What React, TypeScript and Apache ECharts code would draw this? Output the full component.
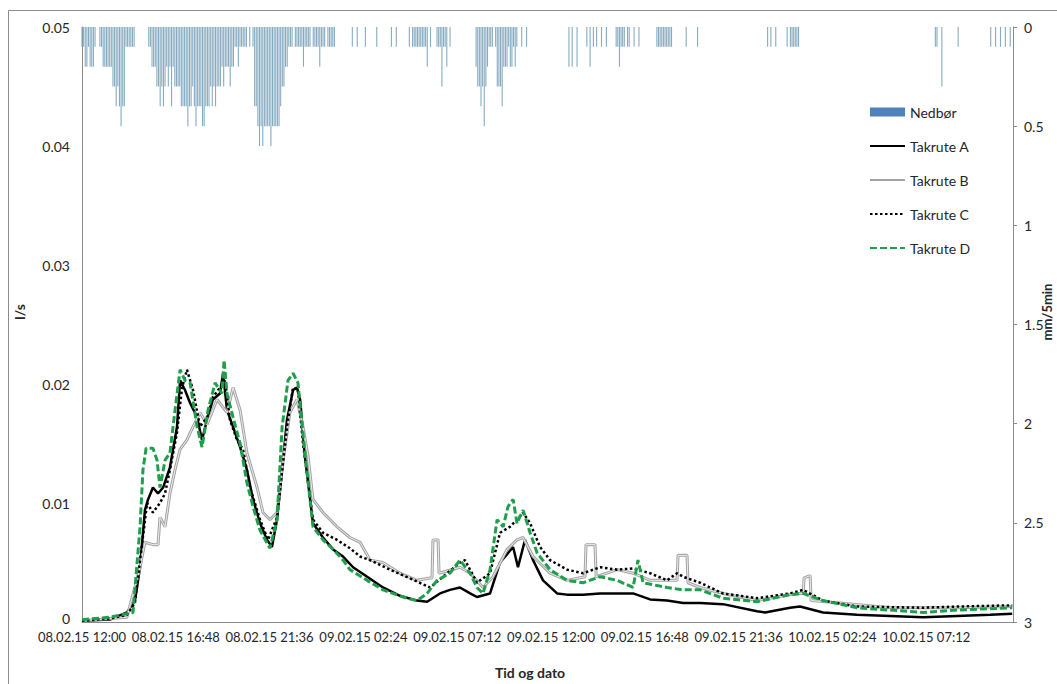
import React, { useEffect, useRef } from "react";
import * as echarts from "echarts";

// ---- axis ticks ----
const xTickLabels = [
  "08.02.15 12:00", "08.02.15 16:48", "08.02.15 21:36", "09.02.15 02:24", "09.02.15 07:12",
  "09.02.15 12:00", "09.02.15 16:48", "09.02.15 21:36", "10.02.15 02:24", "10.02.15 07:12",
];
const xTickStepHours = 4.8; // hours between labelled ticks
const xMaxHours = 47.64;    // end of record, hours after 08.02.15 12:00

// ---- precipitation, tenths of mm per 5-minute slot (one row = one hour) ----
const rainStepMinutes = 5;
const rainTenthsMm = [
  1,1,2,2,1,2,2,2,1,0,0,1,
  1,2,2,2,2,2,2,3,3,4,3,4,
  5,4,4,1,1,1,1,1,1,0,0,0,
  0,0,0,0,0,1,1,2,2,2,3,3,
  4,3,4,3,2,3,2,4,2,3,3,3,
  3,4,4,4,4,5,4,4,3,4,5,4,
  4,4,5,5,4,4,4,3,4,3,4,3,
  3,3,2,3,2,2,2,3,2,2,1,1,
  2,1,1,1,1,1,0,1,0,1,4,4,
  5,6,5,6,5,5,5,5,6,5,5,5,
  5,5,4,3,3,2,2,1,1,1,0,1,
  1,1,1,1,2,1,1,1,1,0,1,1,
  1,1,2,1,1,1,0,1,1,1,1,1,
  0,0,0,0,0,0,0,0,0,0,1,0,
  0,1,0,0,0,0,1,0,0,0,0,0,
  0,1,0,0,0,0,0,0,0,0,1,0,
  0,1,0,0,0,0,0,0,0,1,0,1,
  1,1,1,1,1,1,1,1,2,0,1,0,
  0,0,1,1,1,3,1,1,2,0,1,0,
  0,0,0,0,0,0,0,0,0,0,0,0,
  0,0,2,3,3,4,3,5,3,2,1,1,
  1,0,1,3,3,3,4,2,2,2,1,2,
  2,1,2,1,0,0,1,0,0,1,0,0,
  0,0,0,0,0,0,0,0,0,0,0,0,
  0,0,0,0,0,0,0,0,0,0,0,2,
  0,2,0,0,2,0,0,0,0,0,1,0,
  2,0,1,0,1,0,0,1,0,0,1,0,
  0,0,0,0,1,1,2,1,1,1,0,1,
  1,0,0,1,0,0,1,0,0,0,0,0,
  0,0,0,0,0,1,1,1,1,1,1,1,
  1,1,1,0,0,0,0,0,0,0,0,1,
  0,0,0,0,0,0,1,0,0,0,0,0,
  0,0,0,0,0,0,0,0,0,0,0,0,
  0,0,0,0,0,0,0,0,0,0,0,0,
  0,0,0,0,0,0,0,0,0,0,0,0,
  0,1,0,1,0,0,1,0,0,0,0,0,
  0,1,0,1,1,1,1,1,1,0,0,0,
  0,0,0,0,0,0,0,0,0,0,0,0,
  0,0,0,0,0,0,0,0,0,0,0,0,
  0,0,0,0,0,0,0,0,0,0,0,0,
  0,0,0,0,0,0,0,0,0,0,0,0,
  0,0,0,0,0,0,0,0,0,0,0,0,
  0,0,0,0,0,0,0,0,0,0,0,0,
  0,0,0,0,0,0,0,0,1,1,0,0,
  3,0,0,0,0,0,0,0,0,0,1,0,
  0,0,0,0,0,0,0,0,0,0,0,0,
  0,0,0,0,0,0,1,0,0,1,0,0,
  1,0,0,1,0,0,1,
];

// ---- runoff, [hours after 08.02.15 12:00, l/s] ----
const takruteA: [number, number][] = [
  [0, 0.0001], [1.43, 0.0002], [2.3, 0.0008], [2.71, 0.0018], [2.97, 0.0046], [3.22, 0.0094],
  [3.38, 0.0103], [3.63, 0.0113], [3.89, 0.0108], [4.15, 0.0113], [4.5, 0.013], [4.86, 0.0164],
  [5.02, 0.0203], [5.27, 0.0195], [5.53, 0.0184], [5.89, 0.0172], [6.14, 0.0153], [6.4, 0.017],
  [6.7, 0.0187], [7.06, 0.0192], [7.22, 0.0209], [7.42, 0.0178], [7.73, 0.0164], [8.09, 0.0147],
  [8.44, 0.0128], [8.75, 0.0103], [9.11, 0.0083], [9.47, 0.0069], [9.72, 0.0063], [9.98, 0.0086],
  [10.24, 0.0128], [10.49, 0.017], [10.8, 0.0195], [11.0, 0.0197], [11.16, 0.0187], [11.41, 0.0139],
  [11.82, 0.0083], [12.33, 0.0071], [12.85, 0.0061], [13.36, 0.0055], [13.87, 0.0046], [14.59, 0.0038],
  [15.4, 0.0029], [16.27, 0.0022], [17.14, 0.0018], [17.66, 0.0017], [18.32, 0.0024], [18.83, 0.0027],
  [19.34, 0.0029], [19.86, 0.0024], [20.21, 0.0021], [20.88, 0.0024], [21.39, 0.005], [22.06, 0.0063],
  [22.31, 0.0046], [22.67, 0.0069], [23.08, 0.0052], [23.59, 0.0035], [24.31, 0.0024], [24.82, 0.0023],
  [25.64, 0.0023], [26.51, 0.0024], [27.38, 0.0024], [28.2, 0.0024], [29.07, 0.0019], [29.94, 0.0018],
  [30.76, 0.0016], [31.63, 0.0016], [32.8, 0.0015], [34.54, 0.0009], [34.95, 0.0008], [36.23, 0.0012],
  [36.74, 0.0013], [37.92, 0.0008], [39.66, 0.0006], [41.35, 0.0005], [43.04, 0.0004], [44.78, 0.0005],
  [46.47, 0.0006], [47.6, 0.0007],
];

const takruteB: [number, number][] = [
  [0, 0.0001], [1.43, 0.0003], [2.3, 0.0004], [2.97, 0.0046], [3.22, 0.0067], [3.63, 0.0065],
  [3.89, 0.0065], [3.99, 0.0088], [4.25, 0.008], [4.5, 0.0108], [4.76, 0.0128], [5.02, 0.0145],
  [5.37, 0.0153], [5.68, 0.0164], [6.04, 0.0176], [6.4, 0.0166], [6.91, 0.0187], [7.42, 0.0176],
  [7.73, 0.0197], [8.09, 0.0178], [8.44, 0.0142], [8.96, 0.0113], [9.26, 0.0092], [9.62, 0.0086],
  [9.98, 0.0092], [10.29, 0.0136], [10.64, 0.0176], [11.0, 0.0187], [11.31, 0.0164], [11.57, 0.0139],
  [11.82, 0.0103], [12.33, 0.0092], [13.05, 0.008], [13.71, 0.0071], [14.23, 0.0067], [14.74, 0.0052],
  [15.4, 0.005], [16.27, 0.0041], [17.14, 0.0035], [17.81, 0.0037], [17.91, 0.0037], [17.96, 0.0069],
  [18.22, 0.0069], [18.27, 0.0041], [19.34, 0.0046], [19.86, 0.0041], [20.52, 0.0029], [21.03, 0.0038],
  [21.75, 0.0061], [22.26, 0.0069], [22.57, 0.0071], [23.08, 0.0055], [23.95, 0.0041], [24.82, 0.0035],
  [25.74, 0.0038], [25.79, 0.0065], [26.25, 0.0065], [26.31, 0.0038], [27.38, 0.0044], [28.2, 0.0041],
  [29.07, 0.0035], [30.45, 0.0035], [30.5, 0.0056], [30.96, 0.0056], [31.01, 0.0033], [31.63, 0.0029],
  [32.8, 0.0024], [34.54, 0.0018], [36.23, 0.0023], [36.74, 0.0024], [36.9, 0.0024], [36.95, 0.0037],
  [37.26, 0.0039], [37.31, 0.0018], [38.79, 0.0016], [41.35, 0.0012], [44.78, 0.0012], [47.6, 0.0013],
];

const takruteC: [number, number][] = [
  [0, 0.0001], [1.43, 0.0003], [2.3, 0.0006], [2.71, 0.0016], [2.97, 0.0052], [3.33, 0.01],
  [3.63, 0.0092], [3.99, 0.01], [4.25, 0.0108], [4.5, 0.0128], [4.86, 0.0159], [5.12, 0.0197],
  [5.37, 0.0212], [5.68, 0.0195], [6.04, 0.0164], [6.4, 0.0172], [6.7, 0.0189], [7.06, 0.0197],
  [7.32, 0.0203], [7.57, 0.017], [7.93, 0.0153], [8.24, 0.0145], [8.6, 0.0113], [9.11, 0.0086],
  [9.52, 0.0069], [9.98, 0.0088], [10.49, 0.0164], [10.8, 0.0197], [11.05, 0.0195], [11.31, 0.015],
  [11.82, 0.0086], [12.33, 0.0075], [13.05, 0.0069], [13.71, 0.0062], [14.23, 0.0055], [14.74, 0.0052],
  [15.76, 0.0044], [17.14, 0.0034], [17.81, 0.0029], [18.47, 0.0038], [19.34, 0.005], [19.6, 0.0052],
  [20.21, 0.0033], [20.88, 0.0041], [21.39, 0.0075], [21.9, 0.008], [22.26, 0.0086], [22.57, 0.0092],
  [22.93, 0.0083], [23.44, 0.0063], [23.95, 0.0052], [24.82, 0.0044], [25.64, 0.0041], [26.51, 0.0046],
  [27.38, 0.0044], [28.2, 0.0045], [29.07, 0.0041], [29.94, 0.0035], [30.45, 0.0041], [30.76, 0.0038],
  [31.63, 0.0033], [32.8, 0.0024], [34.54, 0.002], [36.23, 0.0024], [36.9, 0.0027], [37.92, 0.0018],
  [39.66, 0.0013], [43.04, 0.0012], [44.78, 0.0013], [47.6, 0.0014],
];

const takruteD: [number, number][] = [
  [0, 0.0002], [1.43, 0.0004], [2.3, 0.0007], [2.61, 0.0008], [2.97, 0.008], [3.12, 0.0128],
  [3.28, 0.0146], [3.63, 0.0146], [3.84, 0.0136], [3.99, 0.0113], [4.25, 0.0136], [4.5, 0.0142],
  [4.76, 0.0178], [5.02, 0.0212], [5.27, 0.0203], [5.53, 0.0201], [5.89, 0.0164], [6.14, 0.0147],
  [6.45, 0.0178], [6.81, 0.0201], [7.16, 0.0192], [7.27, 0.022], [7.42, 0.0192], [7.73, 0.0172],
  [8.09, 0.015], [8.44, 0.0117], [8.75, 0.0097], [9.11, 0.0077], [9.62, 0.0062], [9.98, 0.0086],
  [10.24, 0.0164], [10.54, 0.0203], [10.8, 0.0209], [11.05, 0.0201], [11.41, 0.0142], [11.82, 0.008],
  [12.33, 0.0069], [12.85, 0.0061], [13.36, 0.0052], [13.71, 0.0044], [14.59, 0.0035], [15.4, 0.0027],
  [16.43, 0.0021], [17.14, 0.0018], [17.66, 0.0024], [18.17, 0.0035], [18.83, 0.0041], [19.34, 0.0052],
  [19.86, 0.0041], [20.21, 0.0029], [20.52, 0.0024], [20.88, 0.0044], [21.24, 0.0086], [21.55, 0.008],
  [21.8, 0.0097], [22.06, 0.0103], [22.26, 0.0083], [22.57, 0.0094], [22.93, 0.0075], [23.29, 0.0058],
  [23.95, 0.0044], [24.82, 0.0035], [25.64, 0.0033], [26.51, 0.0038], [27.38, 0.0035], [28.2, 0.0029],
  [28.45, 0.0052], [28.71, 0.0033], [29.94, 0.0029], [30.76, 0.0027], [31.63, 0.0027], [32.8, 0.002],
  [34.54, 0.0017], [36.23, 0.0023], [36.9, 0.0024], [37.92, 0.0018], [39.66, 0.0012], [43.04, 0.0008],
  [44.78, 0.001], [47.6, 0.0012],
];

const FONT = "Lato, 'Liberation Sans', sans-serif";
const TEXT_COLOR = "#262626";
const AXIS_COLOR = "#8a8a8a";
const HIDDEN_SYMBOL = { color: "rgba(0,0,0,0)", borderColor: "rgba(0,0,0,0)", borderWidth: 0, opacity: 0 };

export default function App() {
  const ref = useRef<HTMLDivElement>(null);

  useEffect(() => {
    if (!ref.current) return;
    const chart = echarts.init(ref.current, undefined, { renderer: "svg" });

    const rainData = rainTenthsMm.map((v, k) => [(k * rainStepMinutes) / 60, v / 10]);

    const lineBase = {
      type: "line" as const,
      xAxisIndex: 0,
      yAxisIndex: 0,
      symbol: "none",
      showSymbol: false,
      animation: false,
    };

    chart.setOption({
      animation: false,
      backgroundColor: "#ffffff",
      textStyle: { fontFamily: FONT },
      grid: { left: 82, top: 27, right: 44, bottom: 62, containLabel: false },
      legend: {
        orient: "vertical",
        left: 869,
        top: 105,
        padding: 0,
        itemWidth: 35,
        itemHeight: 9,
        itemGap: 20,
        textStyle: { fontFamily: FONT, fontSize: 14, color: TEXT_COLOR },
        data: [
          { name: "Nedbør", icon: "rect", itemStyle: { color: "#4f81bd" } },
          { name: "Takrute A", itemStyle: HIDDEN_SYMBOL },
          { name: "Takrute B", itemStyle: HIDDEN_SYMBOL },
          { name: "Takrute C", itemStyle: HIDDEN_SYMBOL },
          { name: "Takrute D", itemStyle: HIDDEN_SYMBOL },
        ],
      },
      xAxis: {
        type: "value",
        min: 0,
        max: xMaxHours,
        interval: xTickStepHours,
        axisLine: { show: true, onZero: false, lineStyle: { color: AXIS_COLOR, width: 1 } },
        axisTick: { show: false },
        splitLine: { show: false },
        axisLabel: {
          margin: 8,
          fontFamily: FONT,
          fontSize: 13,
          lineHeight: 14,
          color: TEXT_COLOR,
          showMinLabel: true,
          showMaxLabel: false,
          hideOverlap: false,
          formatter: (v: number) => xTickLabels[Math.round(v / xTickStepHours)] ?? "",
        },
      },
      yAxis: [
        {
          type: "value",
          min: 0,
          max: 0.05,
          interval: 0.01,
          position: "left",
          axisLine: { show: true, lineStyle: { color: AXIS_COLOR, width: 1 } },
          axisTick: { show: false },
          splitLine: { show: false },
          axisLabel: {
            margin: 12,
            fontFamily: FONT,
            fontSize: 14,
            lineHeight: 12,
            color: TEXT_COLOR,
            formatter: (v: number) => (v === 0 ? "{zero|0}" : String(v)),
            rich: {
              zero: { fontFamily: FONT, fontSize: 14, color: TEXT_COLOR, lineHeight: 12, padding: [0, 0, 7, 0] },
            },
          },
        },
        {
          type: "value",
          min: 0,
          max: 3,
          interval: 0.5,
          inverse: true,
          position: "right",
          axisLine: { show: true, lineStyle: { color: AXIS_COLOR, width: 1 } },
          axisTick: { show: true, inside: false, length: 4, lineStyle: { color: AXIS_COLOR } },
          splitLine: { show: false },
          axisLabel: { margin: 11, fontFamily: FONT, fontSize: 14, lineHeight: 12, color: TEXT_COLOR },
        },
      ],
      series: [
        {
          name: "Nedbør",
          type: "bar",
          xAxisIndex: 0,
          yAxisIndex: 1,
          data: rainData,
          barWidth: 1.1,
          itemStyle: { color: "#86abc1" },
          animation: false,
        },
        {
          ...lineBase,
          name: "Takrute A",
          data: takruteA,
          lineStyle: { color: "#000000", width: 2.5, type: "solid" },
          itemStyle: { color: "#000000" },
        },
        {
          ...lineBase,
          name: "Takrute B",
          data: takruteB,
          lineStyle: { color: "#a3a3a3", width: 3, type: "solid" },
          itemStyle: { color: "#a3a3a3" },
        },
        {
          ...lineBase,
          name: "Takrute B indre",
          data: takruteB,
          lineStyle: { color: "#ececec", width: 1, type: "solid" },
          itemStyle: { color: "#ececec" },
        },
        {
          ...lineBase,
          name: "Takrute C",
          data: takruteC,
          lineStyle: { color: "#000000", width: 2.5, type: [2.5, 2.5] },
          itemStyle: { color: "#000000" },
        },
        {
          ...lineBase,
          name: "Takrute D",
          data: takruteD,
          lineStyle: { color: "#1e9f4b", width: 3, type: [7, 3] },
          itemStyle: { color: "#1e9f4b" },
        },
      ],
      graphic: [
        {
          type: "rect",
          silent: true,
          z: -10,
          shape: { x: 8.5, y: 10.5, width: 1100, height: 700 },
          style: { fill: "none", stroke: "#8c8c8c", lineWidth: 1 },
        },
        {
          type: "text",
          x: 19,
          y: 312,
          rotation: Math.PI / 2,
          style: {
            text: "l/s",
            font: `bold 14px ${FONT}`,
            fill: TEXT_COLOR,
            textAlign: "center",
            textVerticalAlign: "middle",
            align: "center",
            verticalAlign: "middle",
          },
        },
        {
          type: "text",
          x: 530,
          y: 672,
          style: {
            text: "Tid og dato",
            font: `bold 14px ${FONT}`,
            fill: TEXT_COLOR,
            textAlign: "center",
            textVerticalAlign: "middle",
            align: "center",
            verticalAlign: "middle",
          },
        },
        {
          type: "text",
          x: 1047,
          y: 312,
          rotation: Math.PI / 2,
          style: {
            text: "mm/5min",
            font: `bold 13px ${FONT}`,
            fill: TEXT_COLOR,
            textAlign: "center",
            textVerticalAlign: "middle",
            align: "center",
            verticalAlign: "middle",
          },
        },
      ],
    });

    return () => chart.dispose();
  }, []);

  return (
    <div
      ref={ref}
      style={{ position: "fixed", left: 0, top: 0, width: 1057, height: 684, background: "#fff" }}
    />
  );
}
